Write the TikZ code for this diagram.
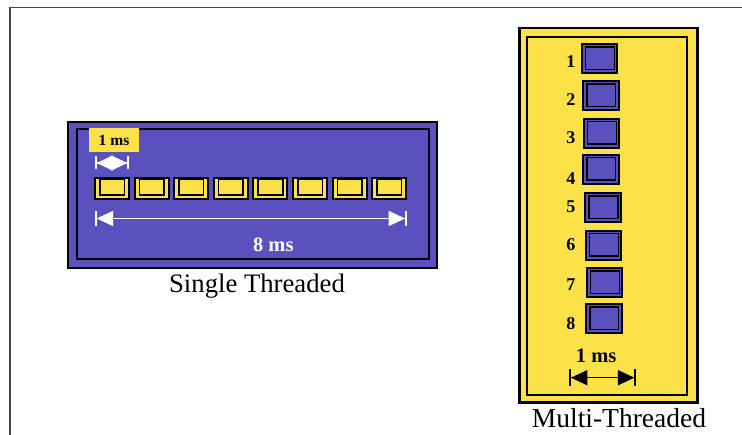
\documentclass[tikz,border=0pt]{standalone}
\usepackage{fontspec}
\setmainfont{Liberation Serif}
\usetikzlibrary{arrows.meta}
\definecolor{threadblue}{RGB}{90,80,190}
\definecolor{threadyellow}{RGB}{252,225,72}
\newcommand{\fsz}[1]{\fontsize{#1}{#1}\selectfont}

\begin{document}
\begin{tikzpicture}[x=1pt, y=-1pt,
    panel/.style = {draw, line width=2.4pt, inner sep=0pt},
    panelin/.style = {draw, line width=1.8pt, inner sep=0pt},
    slot/.style = {draw, line width=2pt, fill=threadyellow, minimum width=34pt, minimum height=21pt, inner sep=0pt},
    core/.style = {draw, line width=2pt, fill=threadblue, minimum width=35.6pt, minimum height=29.3pt, inner sep=0pt},
    num/.style = {font=\bfseries\fsz{18}, anchor=east, inner sep=0pt},
    timespan/.style = {line width=1.6pt, arrows={Bar[width=#1]Triangle[length=16.5pt,width=15pt]-Triangle[length=16.5pt,width=15pt]Bar[width=#1]}}]
    \useasboundingbox (0,0) rectangle (742,435);
    \draw[line width=1.3pt, black!72] (10,435) -- (10,7.5) -- (742,7.5);
    % single threaded
    \node[panel, fill=threadblue, minimum width=369pt, minimum height=146pt] (single) at (252.5,195) {};
    \node[panelin, minimum width=352pt, minimum height=130pt] (singlein) at (253,194) {};
    \node[fill=threadyellow, minimum width=50pt, minimum height=24pt, inner sep=0pt, font=\bfseries\fsz{15.5}] (onems) at (114,140.3) {1 ms};
    \coordinate (s1) at (95,163);
    \coordinate (s2) at (129,163);
    \draw[timespan=13pt, white] (s1) -- (s2);
    \foreach \i in {1,...,8} {
        \node[slot] (slot\i) at ({112+39.6*(\i-1)},188.8) {};
        \draw[line width=1.6pt] ([shift={(5.7pt,-2.4pt)}]slot\i.north west) rectangle ([shift={(-5.7pt,5.3pt)}]slot\i.south east);
    }
    \coordinate (l1) at (95,218.5);
    \coordinate (l2) at (406.7,218.5);
    \draw[timespan=15pt, white] (l1) -- (l2);
    \node[white, font=\bfseries\fsz{20.5}, anchor=base] (eightms) at (273.3,251.7) {8 ms};
    \node[font=\fsz{26.7}, anchor=base] (singlelabel) at (257,292.7) {Single Threaded};
    % multi threaded
    \node[panel, fill=threadyellow, minimum width=178pt, minimum height=374.4pt] (multi) at (608.3,215.5) {};
    \node[panelin, minimum width=159.4pt, minimum height=358.3pt] (multiin) at (607,215.85) {};
    \foreach \i/\x/\y/\n in {1/599.5/58.7/61.7, 2/600.8/95.7/100, 3/601.5/133.3/138, 4/600.8/169.3/179,
                             5/603.1/207.7/206.7, 6/603.5/245.3/245, 7/604.5/282.7/284.3, 8/603.8/318.7/323.3} {
        \node[core] (core\i) at (\x,\y) {};
        \draw[line width=1.6pt] ([shift={(4.8pt,-4pt)}]core\i.north west) rectangle ([shift={(-4pt,5pt)}]core\i.south east);
        \node[num] (n\i) at (575.5,\n) {\i};
    }
    \node[font=\bfseries\fsz{20.5}, anchor=base] (multims) at (596.2,362.3) {1 ms};
    \coordinate (m1) at (569.3,377.7);
    \coordinate (m2) at (636,377.7);
    \draw[timespan=16.7pt] (m1) -- (m2);
    \node[font=\fsz{27.5}, anchor=base] (multilabel) at (619,427.3) {Multi-Threaded};
\end{tikzpicture}
\end{document}
